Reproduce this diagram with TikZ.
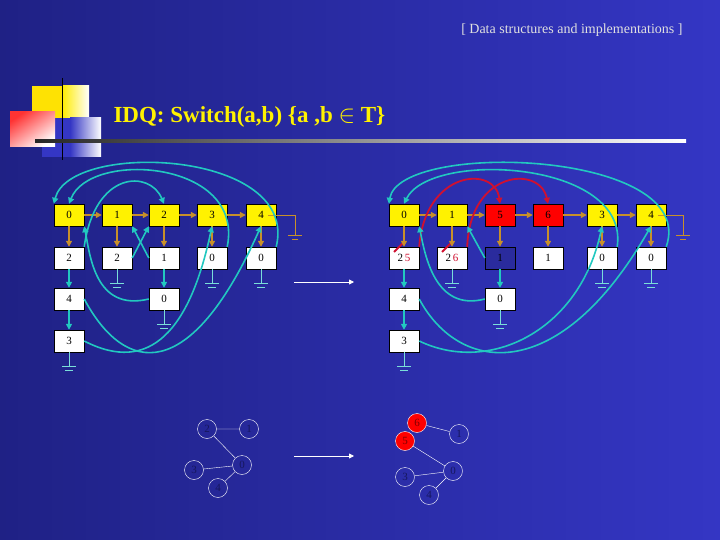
\documentclass[tikz,border=0pt]{standalone}
\usepackage{fontspec}
\setmainfont{Liberation Serif}
\usetikzlibrary{arrows.meta,positioning}
\definecolor{bgl}{HTML}{1F2185}
\definecolor{bgr}{HTML}{3436C4}
\definecolor{teal}{HTML}{22C8C0}
\definecolor{ochre}{HTML}{C8902A}
\definecolor{redline}{HTML}{D01030}
\tikzset{
  cell/.style={draw=black, fill=white, minimum width=30pt, minimum height=22pt, inner sep=0pt, font=\fontsize{11}{13}\selectfont},
  hd/.style={cell, fill=yellow},
  rd/.style={cell, fill=red},
  dk/.style={cell, fill=bgr!80!black},
  ptr/.style={ochre, line width=1.4pt, -{Triangle[length=6pt,width=6pt]}},
  lnk/.style={teal, line width=1.6pt, -{Triangle[length=6pt,width=6pt]}},
  rlnk/.style={redline, line width=1.8pt, -{Triangle[length=6pt,width=6pt]}},
  vtx/.style={circle, draw=white, minimum size=19pt, inner sep=0pt, font=\fontsize{11}{13}\selectfont, text=bgl!70!black},
  edge/.style={white, thin}
}
\newcommand{\gnd}[1]{%
  \draw[teal!60!white, thin] (#1.south) -- ++(0,14) coordinate (g)
    (g) ++(-7,0) -- ++(14,0) (g) ++(-4,4) -- ++(8,0);}
\begin{document}
\begin{tikzpicture}[x=1pt,y=-1pt]
\shade[left color=bgl, right color=bgr] (0,0) rectangle (720,540);
\useasboundingbox (0,0) rectangle (720,540);
% decoration
\fill[yellow!85!orange] (32,86) rectangle (89,120);
\shade[left color=yellow!85!orange, right color=white] (62,86) rectangle (89,120);
\fill[bgr] (42,118) rectangle (70,157);
\shade[left color=bgr, right color=white] (70,118) rectangle (101,157);
\shade[top color=red!80, bottom color=white, shading angle=35] (10,112) rectangle (55,147);
\draw[black, thick] (62,78) -- (62,160);
\shade[left color=black!85, right color=white] (35,140) rectangle (686,143);
\node[text=black!12, font=\fontsize{14}{16}\selectfont, anchor=east] (hdr) at (686,30) {[ Data structures and implementations ]};
\node[text=yellow, font=\fontsize{23}{27}\selectfont\bfseries, anchor=west] (title) at (110,117) {IDQ: Switch(a,b) \{a ,b $\in$ T\}};

% left structure
\foreach \n/\x in {0/69,1/117,2/164,3/212,4/261}
  \node[hd] (L\n) at (\x,215) {\n};
\node[cell] (La) at (69,258) {2};
\node[cell] (Lb) at (117,258) {2};
\node[cell] (Lc) at (164,258) {1};
\node[cell] (Ld) at (212,258) {0};
\node[cell] (Le) at (261,258) {0};
\node[cell] (Lf) at (69,299) {4};
\node[cell] (Lg) at (164,299) {0};
\node[cell] (Lh) at (69,341) {3};
\foreach \a/\b in {L0/L1,L1/L2,L2/L3,L3/L4}
  \draw[ptr] (\a) -- (\b);
\foreach \a/\b in {L0/La,L1/Lb,L2/Lc,L3/Ld,L4/Le}
  \draw[ptr] (\a) -- (\b);
\draw[lnk] (La) -- (Lf);
\draw[lnk] (Lf) -- (Lh);
\draw[lnk] (Lc) -- (Lg);
\gnd{Lb} \gnd{Ld} \gnd{Le} \gnd{Lg} \gnd{Lh}
\draw[ochre, thin] (L4.east) ++(-8,0) -- (295,215) -- (295,235) ++(-7,0) -- ++(14,0) ++(-10,4) -- ++(6,0);
\draw[lnk] (Ld.north east) .. controls (245,160) and (90,150) .. (L0.north);
\draw[lnk] (Le.north east) .. controls (300,150) and (70,140) .. (L0.north west);
\draw[lnk] (Lb.east) -- (L2.south west);
\draw[lnk] (Lc.west) -- (L1.south east);
\draw[lnk] (La.north east) .. controls (95,170) and (150,170) .. (L2.north);
\draw[lnk] (Lg.west) .. controls (95,312) and (90,255) .. (L0.south east);
\draw[lnk] (Lf.east) .. controls (125,375) and (190,385) .. (L4.south);
\draw[lnk] (Lh.east) .. controls (150,375) and (190,330) .. (L3.south);

\draw[white, thick, -{Triangle[length=5pt,width=5pt]}] (294,282) coordinate (m1) -- (354,282) coordinate (m2);

% right structure
\node[hd] (R0) at (404,215) {0};
\node[hd] (R1) at (452,215) {1};
\node[rd] (R5) at (500,215) {5};
\node[rd] (R6) at (548,215) {6};
\node[hd] (R3) at (602,215) {3};
\node[hd] (R4) at (651,215) {4};
\node[cell] (Ra) at (404,258) {2\,\textcolor{redline}{5}};
\node[cell] (Rb) at (452,258) {2\,\textcolor{redline}{6}};
\node[dk] (Rc) at (500,258) {1};
\node[cell] (Rd) at (548,258) {1};
\node[cell] (Re) at (602,258) {0};
\node[cell] (Rf) at (651,258) {0};
\node[cell] (Rg) at (404,299) {4};
\node[cell] (Rh) at (500,299) {0};
\node[cell] (Ri) at (404,341) {3};
\draw[redline, line width=1.8pt] ([xshift=-10pt,yshift=6pt]Ra.center) -- ++(11,-11);
\draw[redline, line width=1.8pt] ([xshift=-10pt,yshift=6pt]Rb.center) -- ++(11,-11);
\foreach \a/\b in {R0/R1,R1/R5,R5/R6,R6/R3,R3/R4}
  \draw[ptr] (\a) -- (\b);
\foreach \a/\b in {R0/Ra,R1/Rb,R5/Rc,R6/Rd,R3/Re,R4/Rf}
  \draw[ptr] (\a) -- (\b);
\draw[lnk] (Ra) -- (Rg);
\draw[lnk] (Rg) -- (Ri);
\draw[lnk] (Rc) -- (Rh);
\gnd{Rb} \gnd{Re} \gnd{Rf} \gnd{Rh} \gnd{Ri}
\draw[ochre, thin] (R4.east) ++(-8,0) -- (683,215) -- (683,235) ++(-7,0) -- ++(14,0) ++(-10,4) -- ++(6,0);
\draw[rlnk] (Ra.north east) .. controls (425,170) and (495,165) .. (R5.north);
\draw[rlnk] (Rb.north east) .. controls (470,170) and (540,165) .. (R6.north);
\draw[lnk] (Re.north east) .. controls (630,160) and (430,150) .. (R0.north);
\draw[lnk] (Rf.north east) .. controls (700,150) and (400,140) .. (R0.north west);
\draw[lnk] (Rc.west) -- (R1.south east);
\draw[lnk] (Rh.west) .. controls (435,312) and (425,255) .. (R0.south east);
\draw[lnk] (Rg.east) .. controls (460,375) and (560,385) .. (R4.south);
\draw[lnk] (Ri.east) .. controls (490,375) and (580,330) .. (R3.south);

% trees
\node[vtx] (t2) at (207,429) {2};
\node[vtx] (t1) at (249,429) {1};
\node[vtx] (t0) at (242,465) {0};
\node[vtx] (t3) at (194,470) {3};
\node[vtx] (t4) at (218,488) {4};
\draw[edge] (t2) -- (t1) (t2) -- (t0) (t3) -- (t0) (t4) -- (t0);
\draw[white, thick, -{Triangle[length=5pt,width=5pt]}] (294,456) coordinate (m3) -- (354,456) coordinate (m4);
\node[vtx, fill=red, text=red!50!black] (u6) at (417,423) {6};
\node[vtx, fill=red, text=red!50!black] (u5) at (405,441) {5};
\node[vtx] (u1) at (459,434) {1};
\node[vtx] (u0) at (453,471) {0};
\node[vtx] (u3) at (405,477) {3};
\node[vtx] (u4) at (429,495) {4};
\draw[edge] (u6) -- (u1) (u5) -- (u0) (u3) -- (u0) (u4) -- (u0);
\end{tikzpicture}
\end{document}
